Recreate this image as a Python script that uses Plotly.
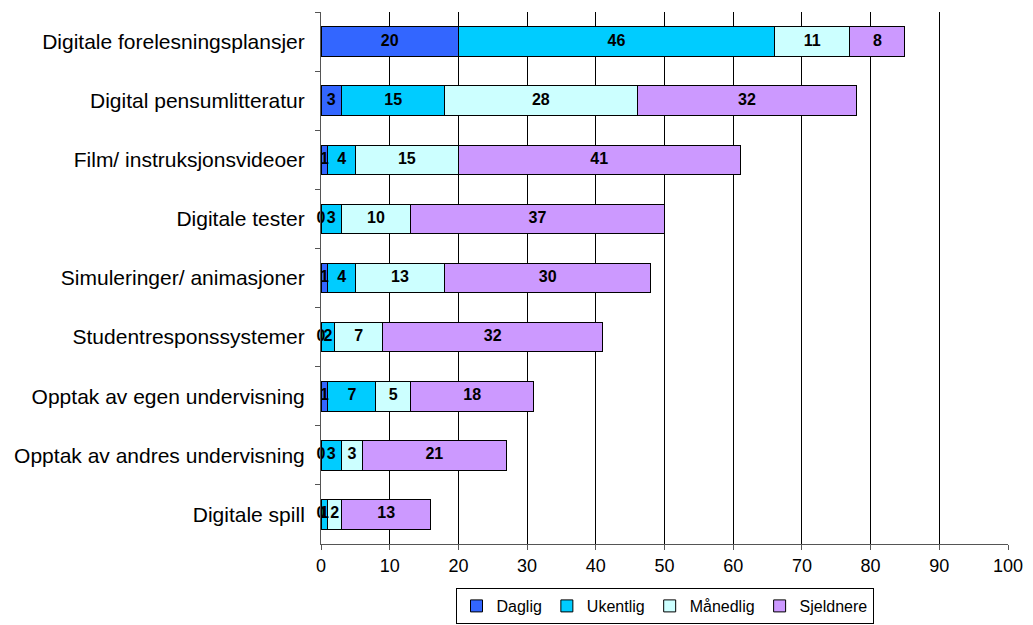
import plotly.graph_objects as go

categories = ["Digitale forelesningsplansjer", "Digital pensumlitteratur", "Film/ instruksjonsvideoer",
              "Digitale tester", "Simuleringer/ animasjoner", "Studentresponssystemer",
              "Opptak av egen undervisning", "Opptak av andres undervisning", "Digitale spill"]
daglig = [20, 3, 1, 0, 1, 0, 1, 0, 0]
ukentlig = [46, 15, 4, 3, 4, 2, 7, 3, 1]
maanedlig = [11, 28, 15, 10, 13, 7, 5, 3, 2]
sjeldnere = [8, 32, 41, 37, 30, 32, 18, 21, 13]
series_names = ["Daglig", "Ukentlig", "Månedlig", "Sjeldnere"]
colors = ["#3366FF", "#00CCFF", "#CCFFFF", "#CC99FF"]
x_ticks = list(range(0, 101, 10))

FONT = "Liberation Sans, Arial"
series = [daglig, ukentlig, maanedlig, sjeldnere]
fig = go.Figure()
for name, vals, col in zip(series_names, series, colors):
    fig.add_trace(go.Bar(y=categories, x=vals, name=name, orientation="h",
                         marker=dict(color=col, line=dict(color="black", width=1)),
                         width=0.5))

# labels at segment centers
base = [0] * len(categories)
for vals in series:
    mids = [b + v / 2 for b, v in zip(base, vals)]
    fig.add_trace(go.Scatter(y=categories, x=mids, mode="text", text=[str(v) for v in vals],
                             textfont=dict(family=FONT, size=16, color="black", weight="bold"),
                             showlegend=False, hoverinfo="skip", cliponaxis=False))
    base = [b + v for b, v in zip(base, vals)]

# page body adds an 8px offset, margins compensate for it
fig.update_layout(
    barmode="stack", width=1033, height=625,
    margin=dict(l=313, r=33, t=4, b=89),
    plot_bgcolor="white", paper_bgcolor="white",
    font=dict(family=FONT, color="black"),
    legend=dict(orientation="h", x=0.5, xanchor="center", y=0.072, yanchor="top", yref="container",
                bordercolor="black", borderwidth=1, font=dict(size=16),
                traceorder="normal", itemwidth=30, tracegroupgap=0),
    showlegend=True,
)
fig.update_xaxes(range=[0, 100], tickvals=x_ticks, showgrid=True, gridcolor="black", gridwidth=1,
                 showline=True, linecolor="#555555", ticks="outside", ticklen=5, tickcolor="#555555",
                 tickfont=dict(size=18), zeroline=False, automargin=False)
fig.update_yaxes(categoryorder="array", categoryarray=categories, autorange="reversed",
                 showline=True, linecolor="#555555", ticks="outside", ticklen=5, tickcolor="#555555",
                 tickson="boundaries", tickfont=dict(size=21), showgrid=False, automargin=False,
                 ticklabelstandoff=11)

fig.write_html("out.html")
